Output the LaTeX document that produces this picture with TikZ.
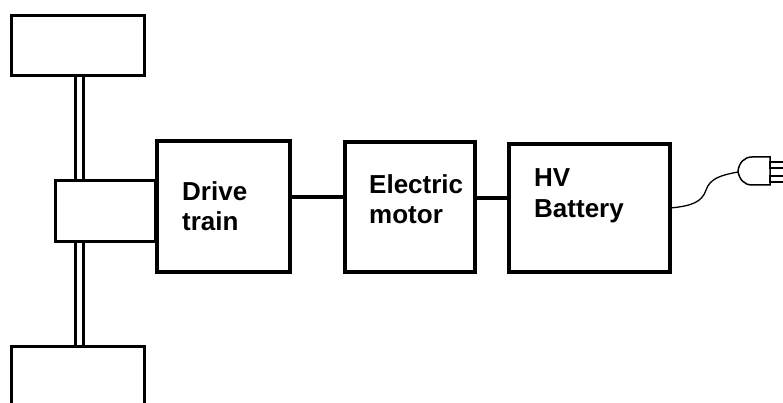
\documentclass[tikz,border=0pt]{standalone}
\usepackage{fontspec}
\setmainfont{Liberation Sans}
\begin{document}
\begin{tikzpicture}[x=1pt,y=-1pt,
  box/.style={draw=black,line width=#1,rectangle,inner sep=0pt,outer sep=0pt,fill=white},
  box/.default=4pt,
  lbl/.style={anchor=base west,inner sep=0pt,align=left,font=\bfseries\fontsize{26}{30}\selectfont},
  link/.style={line width=4.5pt},
  axle/.style={line width=3pt},
  cord/.style={line width=1.3pt}]
\useasboundingbox (0,0) rectangle (783,403);
\clip (0,0) rectangle (783,403);
% wheels and differential
\node[box=3pt,minimum width=133pt,minimum height=60pt] (topwheel) at (78,45.5) {};
\node[box=3pt,minimum width=133pt,minimum height=60pt] (botwheel) at (78,376.5) {};
\node[box=3pt,minimum width=100pt,minimum height=61pt] (diff) at (105,211) {};
% axles
\draw[axle] ([xshift=-2.5pt]topwheel.south) -- ([xshift=-2.5pt]topwheel.south |- diff.north);
\draw[axle] ([xshift=5.5pt]topwheel.south) -- ([xshift=5.5pt]topwheel.south |- diff.north);
\draw[axle] ([xshift=-2.5pt]botwheel.north) -- ([xshift=-2.5pt]botwheel.north |- diff.south);
\draw[axle] ([xshift=5.5pt]botwheel.north) -- ([xshift=5.5pt]botwheel.north |- diff.south);
% main blocks
\node[box,minimum width=133pt,minimum height=131pt] (drive) at (223.5,206.5) {};
\node[box,minimum width=130pt,minimum height=130pt] (motor) at (410,207) {};
\node[box,minimum width=161pt,minimum height=128pt] (battery) at (589.5,208) {};
% labels (anchored at the baseline of the last line)
\node[lbl] (tdrive) at (182,230) {Drive\\train};
\node[lbl] (tmotor) at (369,223.5) {Electric\\motor};
\node[lbl] (tbatt) at (534,217) {HV\\Battery};
% connectors
\coordinate (l1) at (0,197);
\coordinate (l2) at (0,198);
\coordinate (l3) at (0,208);
\draw[link] (drive.east |- l1) -- (motor.west |- l1);
\draw[link] (motor.east |- l2) -- (battery.west |- l2);
% plug
\coordinate (plugtip) at (738,172);
\draw[cord] (battery.east |- l3) .. controls (692,206) and (702,202) .. (706,190)
  .. controls (710,178) and (722,175) .. (plugtip);
\draw[line width=1.5pt,fill=white] (770,157) -- (752,157) .. controls (744,157) and (739,163) .. (738,171)
  .. controls (739,179) and (744,185) .. (752,185) -- (770,185) -- cycle;
\draw[line width=1.5pt,fill=white] (770,162) rectangle (786,168);
\draw[line width=1.5pt,fill=white] (770,176) rectangle (786,182);
\end{tikzpicture}
\end{document}
